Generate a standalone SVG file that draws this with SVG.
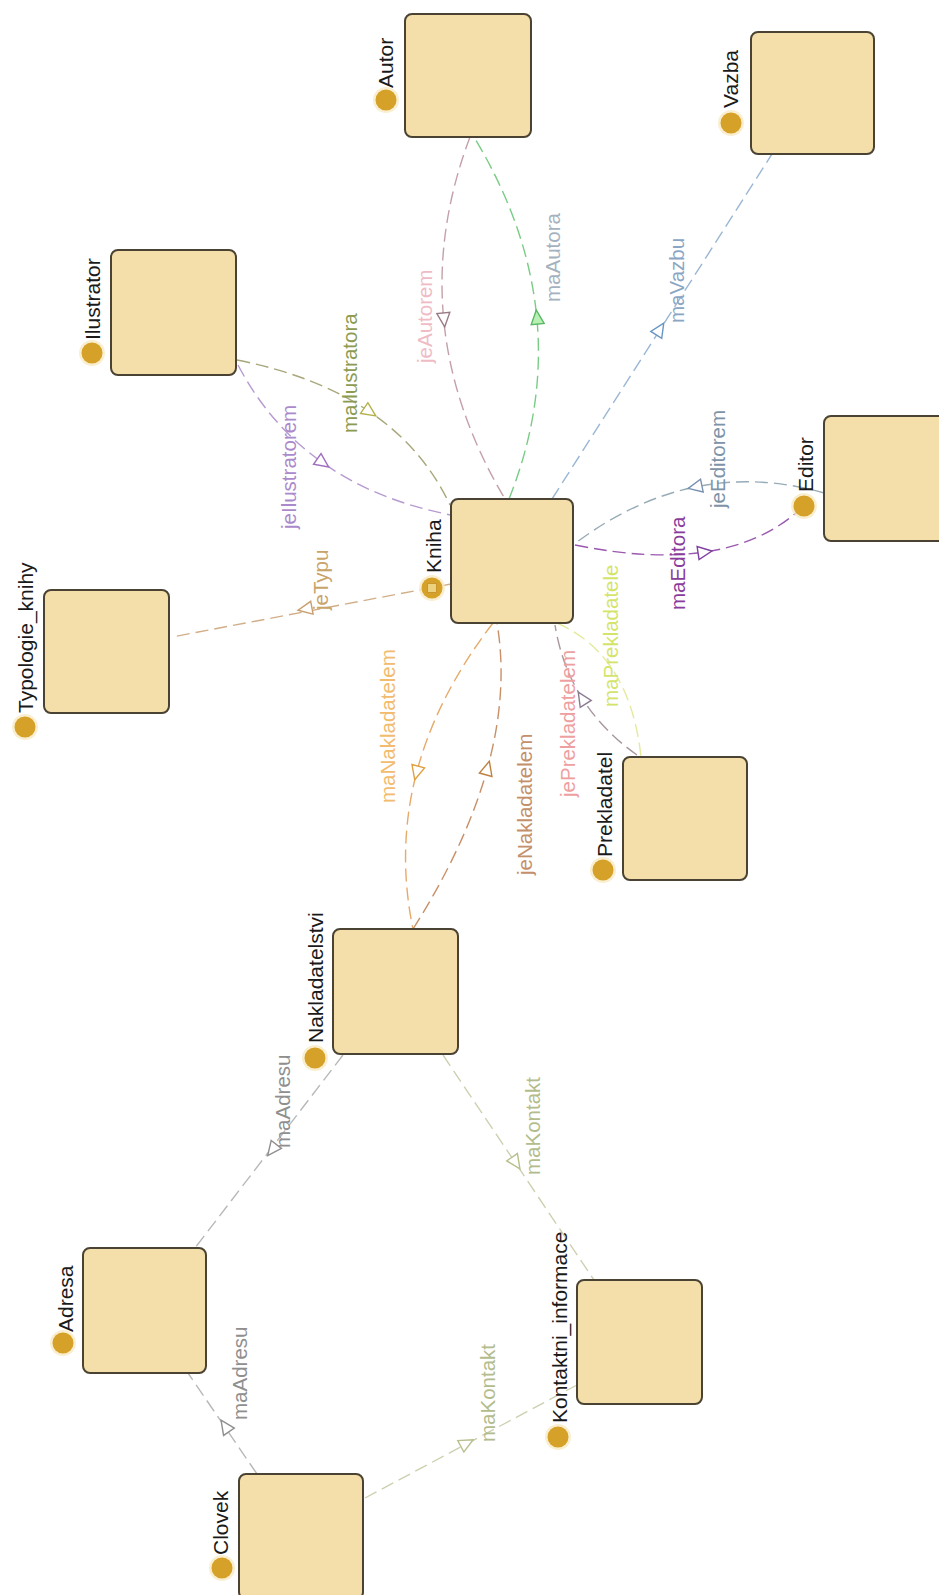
<svg xmlns="http://www.w3.org/2000/svg" xmlns:xlink="http://www.w3.org/1999/xlink" width="939" height="1595" viewBox="0 0 939 1595">
  <style>
    .box{fill:#F4DEA9;stroke:#4a4232;stroke-width:2}
    .halo{fill:#F8EBC4;opacity:0.8}
    .dot{fill:#D6A128}
    .nl{font-family:"Liberation Sans",Arial,sans-serif;font-size:21px;fill:#1a1a1a}
    .el{font-family:"Liberation Sans",Arial,sans-serif;font-size:20.5px}
    .edge{fill:none;stroke-width:1.4;stroke-dasharray:13 6}
    .arw{stroke-width:1.4}
  </style>
  <defs>
    <polygon id="tri" points="7,0 -7,-6.5 -7,6.5"/>
  </defs>
  <rect width="939" height="1595" fill="#ffffff"/>

  <!-- connectors -->
  <g id="connectors">
    <path class="edge" stroke="#c4a0aa" d="M470,137 Q400,322 505,499"/>
    <use href="#tri" class="arw" fill="#ffffff" stroke="#9a7a86" transform="translate(444,320) rotate(84.5)"/>
    <text class="el" fill="#efbcc6" transform="translate(432,363) rotate(-90)">jeAutorem</text>

    <path class="edge" stroke="#78cc84" d="M509,499 Q582,316 474,137"/>
    <use href="#tri" class="arw" fill="#b8f0b4" stroke="#58b864" transform="translate(537,317) rotate(-95.5)"/>
    <text class="el" fill="#a4b2bf" transform="translate(560,302) rotate(-90)">maAutora</text>

    <path class="edge" stroke="#a8a77c" d="M237,360 Q396.5,391.5 450,505"/>
    <use href="#tri" class="arw" fill="#ffffff" stroke="#b4b048" transform="translate(370,412) rotate(34.2)"/>
    <text class="el" fill="#8c9b52" transform="translate(357,433) rotate(-90)">maIlustratora</text>

    <path class="edge" stroke="#b69ad0" d="M238,365 Q301.5,486 451,515"/>
    <use href="#tri" class="arw" fill="#ffffff" stroke="#a070c0" transform="translate(323,463) rotate(35.2)"/>
    <text class="el" fill="#ab8acb" transform="translate(296,529) rotate(-90)">jeIlustratorem</text>

    <path class="edge" stroke="#d2ae88" d="M451,584 L172,637"/>
    <use href="#tri" class="arw" fill="#ffffff" stroke="#c8a070" transform="translate(305,609) rotate(169.4)"/>
    <text class="el" fill="#c9a46a" transform="translate(328,610) rotate(-90)">jeTypu</text>

    <path class="edge" stroke="#9ab6d4" d="M552,499 L772,154"/>
    <use href="#tri" class="arw" fill="#ffffff" stroke="#6a96c4" transform="translate(660,329) rotate(-57.5)"/>
    <text class="el" fill="#8aa6c4" transform="translate(684,323) rotate(-90)">maVazbu</text>

    <path class="edge" stroke="#98abb8" d="M824,493 Q691.5,455 573,545"/>
    <use href="#tri" class="arw" fill="#ffffff" stroke="#7890b0" transform="translate(695,487) rotate(168.3)"/>
    <text class="el" fill="#7d93a8" transform="translate(725,508) rotate(-90)">jeEditorem</text>

    <path class="edge" stroke="#9a58ae" d="M575,545 Q724,575.5 797,512"/>
    <use href="#tri" class="arw" fill="#ffffff" stroke="#8040a0" transform="translate(705,552) rotate(-8.5)"/>
    <text class="el" fill="#8a3c9c" transform="translate(685,610) rotate(-90)">maEditora</text>

    <path class="edge" stroke="#e4ea9a" d="M557,623 Q630,655 641,757"/>
    <text class="el" fill="#d4e46a" transform="translate(618,707) rotate(-90)">maPrekladatele</text>

    <path class="edge" stroke="#a8979f" d="M637,755 Q568,706 555,625"/>
    <use href="#tri" class="arw" fill="#ffffff" stroke="#8a7a90" transform="translate(582,698) rotate(237.8)"/>
    <text class="el" fill="#eea0a0" transform="translate(575,797) rotate(-90)">jePrekladatelem</text>

    <path class="edge" stroke="#e6aa6a" d="M493,623 Q380,770 413,929"/>
    <use href="#tri" class="arw" fill="#ffffff" stroke="#e0a040" transform="translate(416.5,773) rotate(104.7)"/>
    <text class="el" fill="#f2bb6e" transform="translate(395,803) rotate(-90)">maNakladatelem</text>

    <path class="edge" stroke="#c89068" d="M413,929 Q520,760 497,623"/>
    <use href="#tri" class="arw" fill="#ffffff" stroke="#c08040" transform="translate(487.5,768) rotate(-74.6)"/>
    <text class="el" fill="#c4906c" transform="translate(532,875) rotate(-90)">jeNakladatelem</text>

    <path class="edge" stroke="#b8b8b8" d="M343,1055 L195,1248"/>
    <use href="#tri" class="arw" fill="#ffffff" stroke="#909090" transform="translate(272,1150) rotate(127.8)"/>
    <text class="el" fill="#8f8f8f" transform="translate(290,1148) rotate(-90)">maAdresu</text>

    <path class="edge" stroke="#cdd0b0" d="M443,1055 L594,1280"/>
    <use href="#tri" class="arw" fill="#ffffff" stroke="#b8c090" transform="translate(516,1163) rotate(55.7)"/>
    <text class="el" fill="#b3bc8c" transform="translate(540,1175) rotate(-90)">maKontakt</text>

    <path class="edge" stroke="#b8b8b8" d="M257,1474 L188,1373"/>
    <use href="#tri" class="arw" fill="#ffffff" stroke="#909090" transform="translate(225,1426) rotate(-124.3)"/>
    <text class="el" fill="#8f8f8f" transform="translate(247,1420) rotate(-90)">maAdresu</text>

    <path class="edge" stroke="#cdd0b0" d="M365,1498 L577,1385"/>
    <use href="#tri" class="arw" fill="#ffffff" stroke="#b8c090" transform="translate(467,1443) rotate(-28)"/>
    <text class="el" fill="#b3bc8c" transform="translate(495,1442) rotate(-90)">maKontakt</text>
  </g>

  <!-- nodes -->
  <g id="Autor">
    <rect class="box" x="405" y="14" width="126" height="123" rx="7"/>
    <circle class="halo" cx="386" cy="100" r="13"/>
    <circle class="dot" cx="386" cy="100" r="10.5"/>
    <text class="nl" transform="translate(393,88) rotate(-90)">Autor</text>
  </g>
  <g id="Vazba">
    <rect class="box" x="751" y="32" width="123" height="122" rx="7"/>
    <circle class="halo" cx="731" cy="123" r="13"/>
    <circle class="dot" cx="731" cy="123" r="10.5"/>
    <text class="nl" transform="translate(738,108) rotate(-90)">Vazba</text>
  </g>
  <g id="Ilustrator">
    <rect class="box" x="111" y="250" width="125" height="125" rx="7"/>
    <circle class="halo" cx="92" cy="353" r="13"/>
    <circle class="dot" cx="92" cy="353" r="10.5"/>
    <text class="nl" transform="translate(100,340) rotate(-90)">Ilustrator</text>
  </g>
  <g id="Editor">
    <rect class="box" x="824" y="416" width="125" height="125" rx="7"/>
    <circle class="halo" cx="804" cy="506" r="13"/>
    <circle class="dot" cx="804" cy="506" r="10.5"/>
    <text class="nl" transform="translate(813,492) rotate(-90)">Editor</text>
  </g>
  <g id="Kniha">
    <rect class="box" x="451" y="499" width="122" height="124" rx="7"/>
    <circle class="halo" cx="432" cy="588" r="13"/>
    <circle class="dot" cx="432" cy="588" r="10.5"/>
    <rect x="427.5" y="583.5" width="9" height="9" fill="#ECD27E" stroke="#C8962C" stroke-width="1"/>
    <text class="nl" transform="translate(441,573) rotate(-90)">Kniha</text>
  </g>
  <g id="Typologie_knihy">
    <rect class="box" x="44" y="590" width="125" height="123" rx="7"/>
    <circle class="halo" cx="25" cy="727" r="13"/>
    <circle class="dot" cx="25" cy="727" r="10.5"/>
    <text class="nl" transform="translate(33,713) rotate(-90)">Typologie_knihy</text>
  </g>
  <g id="Prekladatel">
    <rect class="box" x="623" y="757" width="124" height="123" rx="7"/>
    <circle class="halo" cx="603" cy="870" r="13"/>
    <circle class="dot" cx="603" cy="870" r="10.5"/>
    <text class="nl" transform="translate(612,857) rotate(-90)">Prekladatel</text>
  </g>
  <g id="Nakladatelstvi">
    <rect class="box" x="333" y="929" width="125" height="125" rx="7"/>
    <circle class="halo" cx="315" cy="1058" r="13"/>
    <circle class="dot" cx="315" cy="1058" r="10.5"/>
    <text class="nl" transform="translate(323,1043) rotate(-90)">Nakladatelstvi</text>
  </g>
  <g id="Adresa">
    <rect class="box" x="83" y="1248" width="123" height="125" rx="7"/>
    <circle class="halo" cx="63" cy="1343" r="13"/>
    <circle class="dot" cx="63" cy="1343" r="10.5"/>
    <text class="nl" transform="translate(73,1332) rotate(-90)">Adresa</text>
  </g>
  <g id="Kontaktni_informace">
    <rect class="box" x="577" y="1280" width="125" height="124" rx="7"/>
    <circle class="halo" cx="558" cy="1437" r="13"/>
    <circle class="dot" cx="558" cy="1437" r="10.5"/>
    <text class="nl" transform="translate(567,1423) rotate(-90)">Kontaktni_informace</text>
  </g>
  <g id="Clovek">
    <rect class="box" x="239" y="1474" width="124" height="125" rx="7"/>
    <circle class="halo" cx="222" cy="1568" r="13"/>
    <circle class="dot" cx="222" cy="1568" r="10.5"/>
    <text class="nl" transform="translate(228,1555) rotate(-90)">Clovek</text>
  </g>
</svg>
